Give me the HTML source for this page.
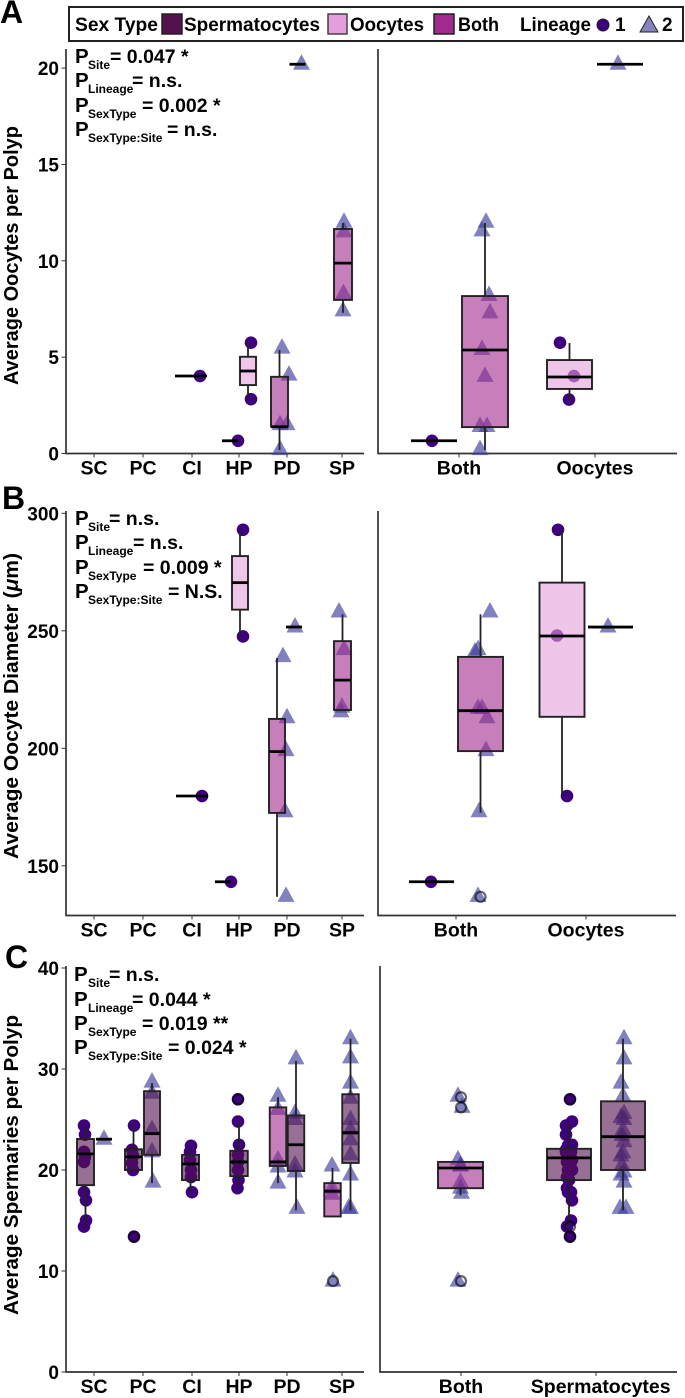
<!DOCTYPE html>
<html lang="en">
<head>
<meta charset="utf-8">
<title>Oocyte and spermary boxplots</title>
<style>
html,body{margin:0;padding:0;background:#fff;}
svg{display:block;}
text{font-family:"Liberation Sans",Arial,sans-serif;font-weight:bold;fill:#000;}
.sub{font-size:12px;}
.eq{font-size:19.5px;}
.st{font-size:20.5px;}
.letter{font-size:32px;}
.leg{font-size:19px;}
.yt{font-size:20px;}
</style>
</head>
<body>
<svg id="chart" width="685" height="1398" viewBox="0 0 685 1398" xmlns="http://www.w3.org/2000/svg">
  <rect x="0" y="0" width="685" height="1398" fill="#fff"/>
  <text class="letter" x="0" y="23">A</text>
  <text class="letter" x="2" y="509">B</text>
  <text class="letter" x="5" y="968">C</text>

  <g>
    <rect x="69" y="7" width="614" height="34" fill="#fff" stroke="#222" stroke-width="2"/>
    <text class="leg" x="75" y="31" textLength="83" lengthAdjust="spacingAndGlyphs">Sex Type</text>
    <rect x="162" y="14" width="20" height="20" fill="#53114e" stroke="#222" stroke-width="1.5"/>
    <text class="leg" x="184" y="31" textLength="136" lengthAdjust="spacingAndGlyphs">Spermatocytes</text>
    <rect x="328" y="14" width="19" height="20" fill="#e49edc" stroke="#444" stroke-width="1.5"/>
    <text class="leg" x="350" y="31" textLength="74" lengthAdjust="spacingAndGlyphs">Oocytes</text>
    <rect x="434" y="14" width="20" height="20" fill="#a02a8e" stroke="#222" stroke-width="1.5"/>
    <text class="leg" x="458" y="31" textLength="41" lengthAdjust="spacingAndGlyphs">Both</text>
    <text class="leg" x="520" y="31" textLength="71" lengthAdjust="spacingAndGlyphs">Lineage</text>
    <circle cx="603" cy="25" r="6" fill="#3f007d" stroke="#222" stroke-width="1"/>
    <text class="leg" x="615" y="31">1</text>
    <polygon points="649,16 640,32 658,32" fill="#8583bf" stroke="#222" stroke-width="1"/>
    <text class="leg" x="662" y="31">2</text>
  </g>

  <text class="yt" transform="translate(18,255.5) rotate(-90)" text-anchor="middle" textLength="259" lengthAdjust="spacingAndGlyphs">Average Oocytes per Polyp</text>
  <text class="yt" transform="translate(18,706) rotate(-90)" text-anchor="middle" textLength="306" lengthAdjust="spacingAndGlyphs">Average Oocyte Diameter (<tspan font-style="italic">μ</tspan>m)</text>
  <text class="yt" transform="translate(18,1165) rotate(-90)" text-anchor="middle" textLength="300" lengthAdjust="spacingAndGlyphs">Average Spermaries per Polyp</text>

  <g id="marks"></g>

  <g>
    <text class="st" x="75" y="63">P</text><text class="sub" x="88" y="69">Site</text><text class="eq" x="110" y="63">= 0.047 *</text>
    <text class="st" x="75" y="87">P</text><text class="sub" x="88" y="93">Lineage</text><text class="eq" x="132" y="87">= n.s.</text>
    <text class="st" x="75" y="112">P</text><text class="sub" x="88" y="118">SexType</text><text class="eq" x="142" y="112">= 0.002 *</text>
    <text class="st" x="75" y="136">P</text><text class="sub" x="88" y="142">SexType:Site</text><text class="eq" x="167" y="136">= n.s.</text>
  </g>
  <g>
    <text class="st" x="75" y="525">P</text><text class="sub" x="88" y="531">Site</text><text class="eq" x="109" y="525">= n.s.</text>
    <text class="st" x="75" y="549">P</text><text class="sub" x="88" y="555">Lineage</text><text class="eq" x="133" y="549">= n.s.</text>
    <text class="st" x="75" y="574">P</text><text class="sub" x="88" y="580">SexType</text><text class="eq" x="143" y="574">= 0.009 *</text>
    <text class="st" x="75" y="598">P</text><text class="sub" x="88" y="604">SexType:Site</text><text class="eq" x="168" y="598">= N.S.</text>
  </g>
  <g>
    <text class="st" x="74" y="981">P</text><text class="sub" x="88" y="987">Site</text><text class="eq" x="109" y="981">= n.s.</text>
    <text class="st" x="74" y="1006">P</text><text class="sub" x="88" y="1012">Lineage</text><text class="eq" x="132" y="1006">= 0.044 *</text>
    <text class="st" x="74" y="1030">P</text><text class="sub" x="88" y="1036">SexType</text><text class="eq" x="142" y="1030">= 0.019 **</text>
    <text class="st" x="74" y="1054">P</text><text class="sub" x="88" y="1060">SexType:Site</text><text class="eq" x="168" y="1054">= 0.024 *</text>
  </g>
</svg>
<script>
// ---------- Categories and tick labels ----------
const sites = ['SC','PC','CI','HP','PD','SP'];
const oocyteTypes = ['Both','Oocytes'];
const spermTypes = ['Both','Spermatocytes'];
const yTicksA = [0,5,10,15,20];
const yTicksB = [150,200,250,300];
const yTicksC = [0,10,20,30,40];

// ---------- Panel A values: stats are [low, q1, median, q3, high] ----------
const aCiLin1Stats = [4.02];
const aCiLin1Pts = [4.02];
const aHpBothStats = [0.66];
const aHpBothPts = [0.66];
const aHpOocStats = [2.82,3.55,4.28,5.02,5.73];
const aHpOocPts = [5.75,2.82];
const aPdBothStats = [0.18,1.4,1.39,3.98,5.37];
const aPdBothPts = [5.47,4.07,1.5,1.5,0.2];
const aPdOocStats = [20.2];
const aPdOocPts = [20.2];
const aSpBothStats = [7.3,7.97,9.88,11.65,11.96];
const aSpBothPts = [12.0,11.5,8.3,7.4];
const aRBothLin1Stats = [0.66];
const aRBothLin1Pts = [0.66];
const aRBothStats = [0.18,1.37,5.37,8.17,11.96];
const aRBothPts = [12,11.55,8.2,7.3,5.4,4,1.4,1.4,0.2];
const aROocStats = [2.78,3.35,3.97,4.85,5.73];
const aROocPts = [5.75,4.02,2.8];
const aROocLin2Stats = [20.2];
const aROocLin2Pts = [20.2];

// ---------- Panel B values ----------
const bCiStats = [179.7];
const bCiPts = [179.7];
const bHpBothStats = [143.2];
const bHpBothPts = [143.2];
const bHpOocStats = [247.5,259,270.5,281.8,292.9];
const bHpOocPts = [293,247.6];
const bPdBothStats = [136.8,172.5,198.6,212.5,238.4];
const bPdBothPts = [239,213,199,173,137];
const bPdOocStats = [251.6];
const bPdOocPts = [251.6];
const bSpBothStats = [216.5,216.3,229,245.6,257];
const bSpBothPts = [258,242,217.5,215.5];
const bRBothLin1Stats = [143.2];
const bRBothLin1Pts = [143.2];
const bRBothStats = [172.6,198.8,216,238.9,257];
const bRBothPts = [258,242,241,217,217,213,199,173,137];
const bRBothOutliers = [136.8];
const bROocStats = [179.5,213.4,247.8,270.5,293];
const bROocPts = [293,248,179.7];
const bROocLin2Stats = [251.6];
const bROocLin2Pts = [251.6];

// ---------- Panel C values ----------
const cScStats = [14.4,18.5,21.6,23.07,24.36];
const cScPts = [24.4,23.5,21.8,21.3,20.8,17.8,17,15,14.4];
const cScLin2Stats = [23.05];
const cScLin2Pts = [23.05];
const cPcStats = [20,20,21.3,22.05,24.4];
const cPcPts = [24.4,22,21.4,20.7,20,13.4];
const cPcOutliers = [13.4];
const cPcLin2Stats = [18.7,21.5,23.6,27.8,28.6];
const cPcLin2Pts = [28.7,27.6,24,21.8,18.8];
const cCiStats = [17.8,19,20.6,21.5,22.2];
const cCiPts = [22.4,21.8,21,20,19.3,17.8];
const cHpStats = [18.3,19.4,20.8,21.9,24.7];
const cHpPts = [27,24.8,22.5,21.5,20.8,20,19,18.2];
const cHpOutliers = [27];
const cPdBothStats = [18.7,20.4,20.8,26.2,27.2];
const cPdBothPts = [27.3,26,21,20.3,18.7];
const cPdSpermStats = [16,19.9,22.5,25.4,30.8];
const cPdSpermPts = [31,25.6,25,20.5,19.8,16.2];
const cSpBothStats = [15.4,15.4,17.9,18.7,20.2];
const cSpBothPts = [20.4,18.2,17.6,9];
const cSpBothOutliers = [9];
const cSpSpermStats = [16,20.7,23.7,27.5,33];
const cSpSpermPts = [33,31.1,28.6,27.1,25,24,23,21.5,19.5,16.2,16.2];
const cRBothStats = [17.5,18.2,20.2,20.8,20.8];
const cRBothPts = [27.3,26.2,21,20.4,20.4,18.8,18.2,17.7,9];
const cRBothOutliers = [27.2,26.2,9];
const cRSpermStats = [14.4,19,21.2,22.1,24.7];
const cRSpermPts = [27,24.8,24.4,24.4,23.5,22.5,22.4,22,21.8,21.8,21.5,21.4,21.3,21,20.8,20.8,20.7,20,20,20,19.3,19,18.2,17.8,17.8,17,15,14.4,13.4];
const cRSpermOutliers = [27,14.4,13.4];
const cRLin2Stats = [16,20,23.3,26.8,33];
const cRLin2Pts = [33,31,28.6,27.3,25.6,25.2,25,24,23.4,22.8,21.7,21.4,20.5,19.8,19.5,18.8,16.2,16.2];

// ---------- Drawing ----------
const NS = 'http://www.w3.org/2000/svg';
const root = document.getElementById('marks');
const FILL = {both:'#a02a8e', ooc:'#e49edc', sperm:'#53114e'};

function mk(tag, attrs, parent){
  const el = document.createElementNS(NS, tag);
  for (const k in attrs) el.setAttribute(k, attrs[k]);
  parent.appendChild(el);
  return el;
}
function linear(d0, d1, r0, r1){
  return v => r0 + (v - d0) * (r1 - r0) / (d1 - d0);
}
function category(cats, slots){
  return c => slots[cats.indexOf(c)];
}

function drawAxes(p){
  const g = mk('g', {}, root);
  
  

  const spine = mk('line', {x1:p.x0, x2:p.x0, y1:p.top, y2:p.base + 0.8, stroke:'#333', 'stroke-width':1.7}, g);
  
  

  const baseLine = mk('line', {x1:p.x0, x2:p.x1, y1:p.base, y2:p.base, stroke:'#333', 'stroke-width':1.7}, g);
  
  

  p.cats.forEach((c, i) => {
    const tick = mk('line', {x1:p.x(c), x2:p.x(c), y1:p.base, y2:p.base + 4, stroke:'#333', 'stroke-width':1}, g);
    
    
    const lab = mk('text', {x:p.x(c) + (p.labelShift ? p.labelShift[i] : 0), y:p.base + 21, 'text-anchor':'middle', 'font-size':19.5}, g);
    lab.textContent = c;
    
    
  });

  if (p.ticks) p.ticks.forEach(t => {
    const tick = mk('line', {x1:p.x0 - 4.5, x2:p.x0, y1:p.y(t), y2:p.y(t), stroke:'#333', 'stroke-width':1}, g);
    
    
    const lab = mk('text', {x:p.x0 - 7, y:p.y(t) + 7, 'text-anchor':'end', 'font-size':19}, g);
    lab.textContent = String(t);
    
    
  });
}

function drawPoints(p, s, g){
  const cx = p.x(s.cat) + s.dodge;
  s.pts.forEach((v, i) => {
    const px = cx + (s.jit ? s.jit[i] : 0);
    const py = p.y(v);
    if (s.shape === 'circle'){
      const dot = mk('circle', {cx:px, cy:py, r:6.3, fill:'#3f007d'}, g);
      
      
    } else {
      const tri = mk('polygon', {points:(px)+','+(py-10)+' '+(px-8.5)+','+(py+5.5)+' '+(px+8.5)+','+(py+5.5), fill:'#3f3c9b', 'fill-opacity':0.65}, g);
      
      
    }
  });
}

function drawBox(p, s, g){
  const cx = p.x(s.cat) + s.dodge;
  const st = s.stats;
  if (st.length === 1){
    const med = mk('line', {x1:cx - s.w/2, x2:cx + s.w/2, y1:p.y(st[0]), y2:p.y(st[0]), stroke:'#000', 'stroke-width':2.8}, g);
    
    
  } else {
    const whiskerHigh = mk('line', {x1:cx, x2:cx, y1:p.y(st[4]), y2:p.y(st[3]), stroke:'#222', 'stroke-width':1.8}, g);
    
    
    const whiskerLow = mk('line', {x1:cx, x2:cx, y1:p.y(st[1]), y2:p.y(st[0]), stroke:'#222', 'stroke-width':1.8}, g);
    
    
    const box = mk('rect', {x:cx - s.w/2, y:p.y(st[3]), width:s.w, height:Math.max(0, p.y(st[1]) - p.y(st[3])), fill:s.fill, 'fill-opacity':0.6, stroke:'#222', 'stroke-width':1.9}, g);
    
    
    const med = mk('line', {x1:cx - s.w/2, x2:cx + s.w/2, y1:p.y(st[2]), y2:p.y(st[2]), stroke:'#000', 'stroke-width':2.8}, g);
    
    
  }
  if (s.outliers) s.outliers.forEach(v => {
    const ring = mk('circle', {cx:cx + (s.outShift || 0), cy:p.y(v), r:5, fill:'none', stroke:'#000', 'stroke-opacity':0.6, 'stroke-width':2.2}, g);
    
    
  });
}

function drawPanel(p, series){
  drawAxes(p);
  const pointsLayer = mk('g', {}, root);
  
  
  const boxLayer = mk('g', {}, root);
  
  
  series.forEach(s => drawPoints(p, s, pointsLayer));
  series.forEach(s => drawBox(p, s, boxLayer));
}

const yA = linear(0, 20, 453.5, 68.1);
const yB = linear(150, 300, 865.8, 513.3);
const yC = linear(0, 40, 1372, 968);
const xSites = category(sites, [94,143,192,239,287,342]);
const xOocA = category(oocyteTypes, [459,595]);
const xOocB = category(oocyteTypes, [456,586]);
const xSperm = category(spermTypes, [461,596]);
const C = 'circle', T = 'triangle';

drawPanel({name:'panel-a-sites', x0:66, x1:364, top:49, base:453.5, y:yA, ticks:yTicksA, x:xSites, cats:sites}, [
  {cat:'CI', dodge:-1, w:32, fill:FILL.both, shape:C, stats:aCiLin1Stats, pts:aCiLin1Pts, jit:[9]},
  {cat:'HP', dodge:-9, w:16, fill:FILL.both, shape:C, stats:aHpBothStats, pts:aHpBothPts, jit:[8]},
  {cat:'HP', dodge:9, w:16, fill:FILL.ooc, shape:C, stats:aHpOocStats, pts:aHpOocPts, jit:[3,3]},
  {cat:'PD', dodge:-7.5, w:17, fill:FILL.both, shape:T, stats:aPdBothStats, pts:aPdBothPts, jit:[2.5,9.5,0.5,7.5,0.5]},
  {cat:'PD', dodge:10.5, w:16, fill:FILL.ooc, shape:T, stats:aPdOocStats, pts:aPdOocPts, jit:[4]},
  {cat:'SP', dodge:1, w:18, fill:FILL.both, shape:T, stats:aSpBothStats, pts:aSpBothPts, jit:[1,1,0.5,0]}
]);
drawPanel({name:'panel-a-types', x0:378, x1:677, top:49, base:453.5, y:yA, x:xOocA, cats:oocyteTypes}, [
  {cat:'Both', dodge:-25, w:46, fill:FILL.both, shape:C, stats:aRBothLin1Stats, pts:aRBothLin1Pts, jit:[-2]},
  {cat:'Both', dodge:26, w:46, fill:FILL.both, shape:T, stats:aRBothStats, pts:aRBothPts, jit:[1,-3,4,5,-3,0,-5,2,-5]},
  {cat:'Oocytes', dodge:-25.5, w:45, fill:FILL.ooc, shape:C, stats:aROocStats, pts:aROocPts, jit:[-9.5,4.5,-0.5]},
  {cat:'Oocytes', dodge:25, w:46, fill:FILL.ooc, shape:T, stats:aROocLin2Stats, pts:aROocLin2Pts, jit:[-2]}
]);

drawPanel({name:'panel-b-sites', x0:66, x1:364, top:511, base:915.5, y:yB, ticks:yTicksB, x:xSites, cats:sites}, [
  {cat:'CI', dodge:0, w:32, fill:FILL.both, shape:C, stats:bCiStats, pts:bCiPts, jit:[10]},
  {cat:'HP', dodge:-16, w:16, fill:FILL.both, shape:C, stats:bHpBothStats, pts:bHpBothPts, jit:[8]},
  {cat:'HP', dodge:1, w:16, fill:FILL.ooc, shape:C, stats:bHpOocStats, pts:bHpOocPts, jit:[3,3]},
  {cat:'PD', dodge:-10, w:16, fill:FILL.both, shape:T, stats:bPdBothStats, pts:bPdBothPts, jit:[6,10,9,8,9]},
  {cat:'PD', dodge:7, w:16, fill:FILL.ooc, shape:T, stats:bPdOocStats, pts:bPdOocPts, jit:[1]},
  {cat:'SP', dodge:0.5, w:17, fill:FILL.both, shape:T, stats:bSpBothStats, pts:bSpBothPts, jit:[-3.5,1.5,-0.5,-1.5]}
]);
drawPanel({name:'panel-b-types', x0:378, x1:676, top:511, base:915.5, y:yB, x:xOocB, cats:oocyteTypes}, [
  {cat:'Both', dodge:-24.5, w:45, fill:FILL.both, shape:C, stats:bRBothLin1Stats, pts:bRBothLin1Pts, jit:[-0.5]},
  {cat:'Both', dodge:24.5, w:45, fill:FILL.both, shape:T, stats:bRBothStats, pts:bRBothPts, jit:[9.5,-2.5,-5.5,-2.5,1.5,6.5,5.5,-1.5,-2.5], outliers:bRBothOutliers},
  {cat:'Oocytes', dodge:-24, w:45, fill:FILL.ooc, shape:C, stats:bROocStats, pts:bROocPts, jit:[-4,-5,5]},
  {cat:'Oocytes', dodge:24.5, w:45, fill:FILL.ooc, shape:T, stats:bROocLin2Stats, pts:bROocLin2Pts, jit:[-2.5]}
]);

drawPanel({name:'panel-c-sites', x0:66, x1:364, top:966, base:1372, y:yC, ticks:yTicksC, x:xSites, cats:sites}, [
  {cat:'SC', dodge:-8.5, w:17, fill:FILL.sperm, shape:C, stats:cScStats, pts:cScPts, jit:[-1.5,-0.5,-1.5,-0.5,-1.5,-1.5,0.5,0.5,-1.5]},
  {cat:'SC', dodge:10, w:16, fill:FILL.sperm, shape:T, stats:cScLin2Stats, pts:cScLin2Pts, jit:[0]},
  {cat:'PC', dodge:-9.5, w:17, fill:FILL.sperm, shape:C, stats:cPcStats, pts:cPcPts, jit:[0.5,-1.5,-0.5,-1.5,-0.5,0.5], outliers:cPcOutliers, outShift:0.5},
  {cat:'PC', dodge:9, w:16, fill:FILL.sperm, shape:T, stats:cPcLin2Stats, pts:cPcLin2Pts, jit:[0,0,0,0,1]},
  {cat:'CI', dodge:-1.5, w:17, fill:FILL.sperm, shape:C, stats:cCiStats, pts:cCiPts, jit:[0.5,-0.5,-0.5,0.5,0.5,1.5]},
  {cat:'HP', dodge:0, w:17.5, fill:FILL.sperm, shape:C, stats:cHpStats, pts:cHpPts, jit:[-1,-1,0,-1,-1,-1,-0.5,-1.5], outliers:cHpOutliers, outShift:-1},
  {cat:'PD', dodge:-9, w:16.5, fill:FILL.both, shape:T, stats:cPdBothStats, pts:cPdBothPts, jit:[0,0,0,0,0]},
  {cat:'PD', dodge:9, w:16.5, fill:FILL.sperm, shape:T, stats:cPdSpermStats, pts:cPdSpermPts, jit:[0,-1,-1,-1,-1,1]},
  {cat:'SP', dodge:-9.5, w:16.5, fill:FILL.both, shape:T, stats:cSpBothStats, pts:cSpBothPts, jit:[-0.5,-0.5,-0.5,0.5], outliers:cSpBothOutliers, outShift:0.5},
  {cat:'SP', dodge:8.5, w:16.5, fill:FILL.sperm, shape:T, stats:cSpSpermStats, pts:cSpSpermPts, jit:[0,0,0,0,0,0,0,0,0,0,-2]}
]);
drawPanel({name:'panel-c-types', x0:380, x1:677, top:966, base:1372, y:yC, x:xSperm, cats:spermTypes, labelShift:[0,4.7]}, [
  {cat:'Both', dodge:-0.5, w:45, fill:FILL.both, shape:T, stats:cRBothStats, pts:cRBothPts, jit:[-2.5,1.5,-2.5,0,0,0,0,1,-2.5], outliers:cRBothOutliers, outShift:0.5},
  {cat:'Spermatocytes', dodge:-27, w:44, fill:FILL.sperm, shape:C, stats:cRSpermStats, pts:cRSpermPts, jit:[1,3,-2,-3,-3,3,-1,-3,2,-3,-1,1,-2,3,-2,2,0,-1,1,3,-2,0,-2,2,-1,3,2,-2,1], outliers:cRSpermOutliers, outShift:1},
  {cat:'Spermatocytes', dodge:27, w:44, fill:FILL.sperm, shape:T, stats:cRLin2Stats, pts:cRLin2Pts, jit:[1,1,-2,0,1,-2,1,0,-1,1,0,-2,-1,1,-2,1,-3,3]}
]);
</script>
</body>
</html>
